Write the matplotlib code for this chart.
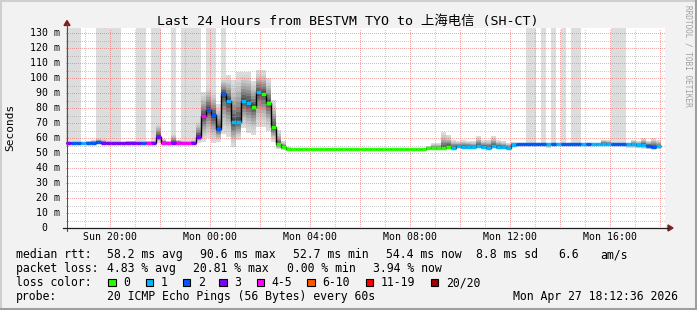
import matplotlib
matplotlib.use('Agg')
import matplotlib.pyplot as plt
import matplotlib.transforms as mtransforms
from matplotlib.patches import Rectangle, Polygon
from matplotlib.lines import Line2D
import numpy as np

W, H = 697, 310
plt.rcParams['font.family'] = ['DejaVu Sans Mono', 'Noto Sans CJK SC']

# ---------------- data ----------------
title = "Last 24 Hours from BESTVM TYO to 上海电信 (SH-CT)"
start_hour = 18.24      # hours since Sun 00:00 (first bin start)
step_hours = 0.2        # 12 minute consolidation steps

median_ms = [
    56.5, 56.5, 56.5, 56.5, 56.5, 56.5, 57.2, 56.5, 56.5, 56.5, 56.5, 56.5, 57.0, 57.0,
    56.5, 56.5, 57.0, 56.5, 61.0, 57.0, 56.5, 57.0, 57.0, 57.0, 56.5, 56.5, 61.0,
    74.7, 78.9, 75.3, 66.0, 89.5, 84.8, 70.4, 71.0, 84.9, 83.6, 80.9, 90.6, 89.5, 83.6,
    67.1, 55.8, 53.8, 52.7,
    52.7, 52.7, 52.7, 52.7, 52.7, 52.7, 52.7, 52.7, 52.7, 52.7, 52.7, 52.7, 52.7, 52.7,
    52.7, 52.7, 52.7, 52.7, 52.7, 52.7, 52.7, 52.7, 52.7, 52.7, 52.7, 52.7, 52.7,
    53.1, 53.1, 53.1, 53.4, 54.2,
    53.6, 54.6, 54.2, 54.2, 53.8, 54.6, 54.2, 53.6, 54.6, 54.2, 53.8, 53.6,
    55.6,
    56.2, 56.2, 56.2, 56.2, 56.2, 56.2, 56.2, 56.2, 56.2, 56.2, 56.2, 56.2, 56.2, 56.2,
    56.2, 56.2, 56.2, 56.2, 56.2, 56.2, 56.2, 56.2,
    55.8, 55.8, 55.5, 55.5, 54.8, 54.2, 54.4,
]
loss_pings = [
    3, 2, 2, 1, 2, 2, 2, 3, 3, 3, 3, 3, 3, 3, 3, 2, 4, 3, 3, 4, 4, 3, 4, 4, 4, 3, 3,
    4, 2, 2, 2, 2, 1, 1, 1, 1, 1, 0, 1, 0, 0, 0, 0, 0, 0,
    0, 0, 0, 0, 0, 0, 0, 0, 0, 0, 0, 0, 0, 0, 0, 0, 0, 0, 0, 0, 0, 0, 0, 0, 0, 0, 0,
    0, 0, 0, 0, 0,
    1, 1, 1, 1, 1, 1, 1, 1, 1, 1, 1, 1,
    1,
    2, 2, 2, 2, 2, 2, 1, 2, 1, 2, 2, 2, 2, 1, 2, 1, 1, 1, 1, 2, 2, 2,
    1, 1, 1, 1, 2, 2, 1,
]
smoke_lo = [
    56.0, 56.0, 56.0, 56.0, 56.0, 56.0, 56.5, 56.0, 56.0, 56.0, 56.0, 56.0, 56.5, 56.5,
    56.0, 56.0, 56.5, 56.0, 57.0, 56.5, 56.0, 56.5, 56.5, 56.5, 56.0, 56.0, 57.0,
    57.6, 59.8, 56.4, 57.6, 63.0, 60.9, 54.2, 58.7, 66.4, 63.5, 62.0, 67.6, 67.6, 65.0,
    57.5, 52.4, 52.2, 52.3,
    52.4, 52.4, 52.4, 52.4, 52.4, 52.4, 52.4, 52.4, 52.4, 52.4, 52.4, 52.4, 52.4, 52.4,
    52.4, 52.4, 52.4, 52.4, 52.4, 52.4, 52.4, 52.4, 52.4, 52.4, 52.4, 52.4, 52.4,
    52.6, 52.6, 52.6, 52.6, 52.8,
    52.6, 53.2, 53.0, 53.0, 52.8, 53.2, 53.0, 52.6, 53.2, 53.0, 52.8, 52.6,
    54.5,
    55.8, 55.8, 55.8, 55.8, 55.8, 55.8, 53.5, 55.8, 55.8, 55.8, 55.8, 55.8, 55.8, 55.8,
    55.8, 55.8, 55.8, 55.8, 55.8, 55.8, 55.8, 54.5,
    53.5, 53.5, 53.5, 53.0, 53.0, 53.0, 53.0,
]
smoke_hi = [
    57.5, 57.5, 57.5, 57.5, 58.0, 59.0, 60.0, 59.5, 58.0, 57.5, 57.5, 57.5, 58.0, 58.0,
    57.5, 57.5, 58.0, 58.5, 70.0, 59.5, 58.0, 63.0, 59.0, 58.0, 58.0, 59.0, 72.0,
    91.0, 95.3, 92.0, 83.0, 101.0, 102.0, 98.7, 104.2, 104.2, 104.2, 98.0, 105.3, 105.3, 99.8,
    85.3, 65.3, 58.0, 54.0,
    53.0, 53.0, 53.0, 53.0, 53.0, 53.0, 53.0, 53.0, 53.0, 53.0, 53.0, 53.0, 53.0, 53.0,
    53.0, 53.0, 53.0, 53.0, 53.0, 53.0, 53.0, 53.0, 53.0, 53.0, 53.0, 53.0, 53.0,
    54.5, 56.4, 56.4, 63.8, 62.0,
    59.0, 58.0, 58.5, 58.0, 58.0, 61.5, 58.5, 59.0, 61.5, 58.5, 58.0, 57.0,
    57.5,
    56.8, 56.8, 56.8, 56.8, 56.8, 56.8, 56.8, 56.8, 56.8, 56.8, 56.8, 56.8, 56.8, 56.8,
    56.8, 56.8, 56.8, 59.0, 58.5, 56.8, 56.8, 56.8,
    57.0, 58.5, 58.0, 60.0, 58.0, 60.0, 58.5,
]
# bins containing pings above the visible range (drawn as light columns to the top)
tall_bins = [0, 1, 2, 6, 7, 8, 9, 10, 14, 15, 17, 18, 21, 23, 24, 25, 26, 28, 29, 31,
             92, 93, 95, 97, 99, 101, 102, 109, 110, 111]

loss_labels = ["0", "1", "2", "3", "4-5", "6-10", "11-19", "20/20"]
loss_colors = ['#26ff00', '#00b8ff', '#0059ff', '#7e00ff', '#ff00ff', '#ff5500', '#ff0000', '#a10000']

xtick_hours = [20, 24, 28, 32, 36, 40]
xtick_labels = ["Sun 20:00", "Mon 00:00", "Mon 04:00", "Mon 08:00", "Mon 12:00", "Mon 16:00"]
ytick_values = list(range(0, 131, 10))

stats_rtt = ["58.2 ms avg", "90.6 ms max", "52.7 ms min", "54.4 ms now", "8.8 ms sd", "6.6", "am/s"]
stats_loss = ["4.83 % avg", "20.81 % max", "0.00 % min", "3.94 % now"]
probe_text = "20 ICMP Echo Pings (56 Bytes) every 60s"
stamp_text = "Mon Apr 27 18:12:36 2026"

# ---------------- helpers ----------------
def fx(x):
    return x / W

def fy(y):
    return 1 - y / H

def loss_class(n):
    if n <= 3:
        return n
    if n <= 5:
        return 4
    if n <= 10:
        return 5
    if n <= 19:
        return 6
    return 7

fig = plt.figure(figsize=(W / 100, H / 100), dpi=100)
fig.patch.set_facecolor('#f2f2f2')

x_left_px, x_right_px = 66, 665
y_top_px, y_bot_px = 28, 228
ax = fig.add_axes([fx(x_left_px), fy(y_bot_px), (x_right_px - x_left_px) / W,
                   (y_bot_px - y_top_px) / H])
ax.set_facecolor('white')
ymax = (y_bot_px - y_top_px) / 1.5
ax.set_ylim(0, ymax)
x0 = start_hour
x1 = start_hour + (x_right_px - x_left_px) / 25.0
ax.set_xlim(x0, x1)
for s in ax.spines.values():
    s.set_visible(False)
ax.set_xticks([])
ax.set_yticks([])

med = np.array(median_ms)
lo = np.array(smoke_lo)
hi = np.array(smoke_hi)
n = len(med)
lefts = start_hour + step_hours * np.arange(n)
edges = start_hour + step_hours * np.arange(n + 1)

# tall columns
tb = np.array(tall_bins)
ax.bar(lefts[tb], ymax - med[tb], bottom=med[tb], width=step_hours, align='edge',
       color='#dddddd', linewidth=0, zorder=1)

# smoke layers (light outside, dark near the median)
N = 10
for j in range(N):
    f = 1.0 - j / N
    g = 0.86 - 0.56 * (j / (N - 1)) ** 1.6
    b = med - f * (med - lo)
    t = med + f * (hi - med)
    ax.bar(lefts, t - b, bottom=b, width=step_hours, align='edge',
           color=(g, g, g), linewidth=0, zorder=2)

# grid
minor_c = (0.6, 0.6, 0.6, 0.5)
major_c = (0.9, 0.35, 0.35, 0.5)
for v in np.arange(5, ymax, 5):
    c = major_c if v % 10 == 0 else minor_c
    ax.axhline(v, color=c, lw=0.72, ls=(0, (1, 2)), zorder=3, antialiased=False)
for hh in range(19, 43):
    c = major_c if hh % 2 == 0 else minor_c
    ax.axvline(hh, color=c, lw=0.72, ls=(0, (1, 2)), zorder=3, antialiased=False)

# median line
ax.stairs(med, edges, baseline=None, color='black', lw=1.0, zorder=4)
cols = [loss_colors[loss_class(v)] for v in loss_pings]
ax.hlines(med, lefts, lefts + step_hours, colors=cols, lw=2.5, zorder=5)

# axes lines and arrows
axis_c = '#1f1f1f'
arrow_c = '#7f1f1f'
fig.add_artist(Line2D([fx(67), fx(67)], [fy(231), fy(24)], color='#505050', lw=0.8))
fig.add_artist(Line2D([fx(63), fx(668)], [fy(228), fy(228)], color=axis_c, lw=0.9))
fig.add_artist(Polygon([[fx(64), fy(25.5)], [fx(70), fy(25.5)], [fx(67), fy(20.5)]],
                       closed=True, color=arrow_c, transform=fig.transFigure))
fig.add_artist(Polygon([[fx(668), fy(225)], [fx(668), fy(231)], [fx(673), fy(228)]],
                       closed=True, color=arrow_c, transform=fig.transFigure))

# tick labels
ty = mtransforms.blended_transform_factory(fig.transFigure, ax.transData)
for v in ytick_values:
    lab = f"{v} m" if v else "0"
    xr = 60 if v else 47
    ax.text(fx(xr), v, lab, transform=ty, ha='right', va='center', fontsize=7.1)
tx = mtransforms.blended_transform_factory(ax.transData, fig.transFigure)
for hh, lab in zip(xtick_hours, xtick_labels):
    ax.text(hh, fy(240.5), lab, transform=tx, ha='center', va='baseline', fontsize=7.1)

# title and labels
fig.text(fx(348), fy(25.3), title, ha='center', va='baseline', fontsize=9.6)
fig.text(fx(10.5), fy(127.5), "Seconds", rotation=90, ha='center', va='center', fontsize=8.0)
fig.text(fx(688), fy(5), "RRDTOOL / TOBI OETIKER", rotation=270, ha='center', va='top',
         fontsize=5.6, color='#a0a0a0')

# legend block
fs = 8.3
rows = [258.3, 272.3, 286.0, 300.0]
fig.text(fx(16), fy(rows[0]), "median rtt:", fontsize=fs, va='baseline')
for xp, s in zip([107, 200, 293, 386, 476, 558, 600], stats_rtt):
    fig.text(fx(xp), fy(rows[0]), s, fontsize=fs, va='baseline')
fig.text(fx(16), fy(rows[1]), "packet loss:", fontsize=fs, va='baseline')
for xp, s in zip([107, 193.3, 286.7, 372.7], stats_loss):
    fig.text(fx(xp), fy(rows[1]), s, fontsize=fs, va='baseline')
fig.text(fx(16), fy(rows[2]), "loss color:", fontsize=fs, va='baseline')
box_x = [108.3, 145.7, 182.7, 219.3, 256.7, 307.3, 365.7, 430.7]
for bx, lab, c in zip(box_x, loss_labels, loss_colors):
    fig.add_artist(Rectangle((fx(bx), fy(286)), 7.5 / W, 7.5 / H, facecolor=c,
                             edgecolor='black', lw=0.8, transform=fig.transFigure))
    fig.text(fx(bx + 15), fy(rows[2]), lab, fontsize=fs, va='baseline')
fig.text(fx(16), fy(rows[3]), "probe:", fontsize=fs, va='baseline')
fig.text(fx(107.3), fy(rows[3]), probe_text, fontsize=fs, va='baseline')
fig.text(fx(512.7), fy(rows[3]), stamp_text, fontsize=fs, va='baseline')

# 3D frame
fig.add_artist(Line2D([0, 1], [fy(1), fy(1)], color='#cfcfcf', lw=1.5))
fig.add_artist(Line2D([fx(1), fx(1)], [0, 1], color='#cfcfcf', lw=1.5))
fig.add_artist(Line2D([0, 1], [fy(309), fy(309)], color='#9e9e9e', lw=1.5))
fig.add_artist(Line2D([fx(696), fx(696)], [0, 1], color='#9e9e9e', lw=1.5))

fig.savefig('out.png', dpi=100, facecolor=fig.get_facecolor())
